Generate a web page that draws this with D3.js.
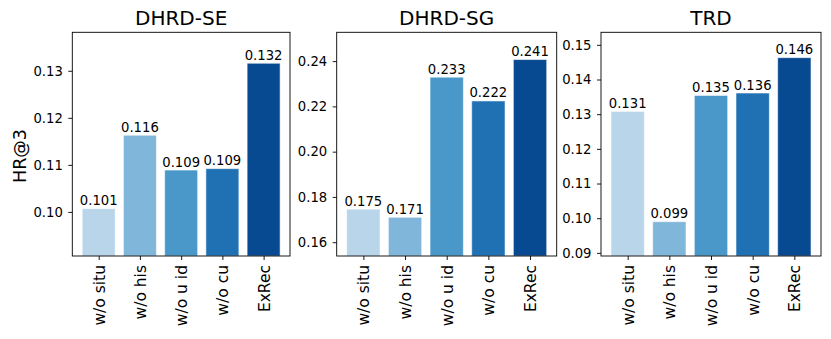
<!DOCTYPE html>
<html>
<head>
<meta charset="utf-8">
<script src="https://cdn.jsdelivr.net/npm/d3@7"></script>
<style>
  html, body { margin: 0; padding: 0; background: #fff; }
  text { font-family: "DejaVu Sans", sans-serif; fill: #000; }
</style>
</head>
<body>
<svg id="chart" width="831" height="339"></svg>
<script>
// ---- data ----
const categories = ["w/o situ", "w/o his", "w/o u id", "w/o cu", "ExRec"];
const titles = ["DHRD-SE", "DHRD-SG", "TRD"];
const valuesSE = [0.1007, 0.1163, 0.1089, 0.1092, 0.1316];
const valuesSG = [0.1746, 0.1710, 0.2329, 0.2224, 0.2407];
const valuesTRD = [0.1308, 0.0990, 0.1354, 0.1361, 0.1463];
const ticksSE = [0.10, 0.11, 0.12, 0.13];
const ticksSG = [0.16, 0.18, 0.20, 0.22, 0.24];
const ticksTRD = [0.09, 0.10, 0.11, 0.12, 0.13, 0.14, 0.15];
const yLabel = "HR@3";

// ---- style ----
const colors = ["#b8d5ea", "#7fb6d9", "#4a98c9", "#2070b4", "#084a91"];
const panels = [
  { title: titles[0], values: valuesSE, ticks: ticksSE, x0: 72.3, x1: 290 },
  { title: titles[1], values: valuesSG, ticks: ticksSG, x0: 336.7, x1: 556.7 },
  { title: titles[2], values: valuesTRD, ticks: ticksTRD, x0: 601, x1: 821 }
];
const plotTop = 32.3, plotBottom = 256;

const svg = d3.select("#chart");

panels.forEach((p, pi) => {
  const ymin = d3.min(p.values) * 0.9;
  const ymax = d3.max(p.values) * 1.05;
  const y = d3.scaleLinear().domain([ymin, ymax]).range([plotBottom, plotTop]);
  // matplotlib-like bar placement: xlim [-0.64, 4.64], bar width 0.8
  const x = d3.scaleLinear().domain([-0.64, 4.64]).range([p.x0, p.x1]);
  const g = svg.append("g");

  // bars
  g.selectAll("rect.bar").data(p.values).enter().append("rect")
    .attr("class", "bar")
    .attr("x", (d, i) => x(i - 0.4))
    .attr("width", (d, i) => x(i + 0.4) - x(i - 0.4))
    .attr("y", d => y(d))
    .attr("height", d => plotBottom - y(d))
    .attr("fill", (d, i) => colors[i])
    .attr("stroke", "#ffffff")
    .attr("stroke-opacity", 0.55)
    .attr("stroke-width", 1);

  // value labels
  g.selectAll("text.val").data(p.values).enter().append("text")
    .attr("class", "val")
    .attr("x", (d, i) => x(i))
    .attr("y", d => y(d) - 3.5)
    .attr("text-anchor", "middle")
    .attr("font-size", 13.2)
    .text(d => d.toFixed(3));

  // y axis
  const yAxis = d3.axisLeft(y).tickValues(p.ticks)
    .tickFormat(d => d.toFixed(2)).tickSize(4).tickPadding(5.5);
  const ya = g.append("g").attr("transform", `translate(${p.x0},0)`).call(yAxis);
  ya.select(".domain").remove();
  ya.selectAll(".tick line").attr("stroke", "#000").attr("stroke-width", 0.9);
  ya.selectAll(".tick text").attr("font-size", 13.2)
    .attr("font-family", "DejaVu Sans, sans-serif");

  // x axis (ticks + rotated labels)
  const xAxis = d3.axisBottom(x).tickValues(d3.range(categories.length))
    .tickFormat(i => categories[i]).tickSize(4).tickPadding(5);
  const xa = g.append("g").attr("transform", `translate(0,${plotBottom})`).call(xAxis);
  xa.select(".domain").remove();
  xa.selectAll(".tick line").attr("stroke", "#000").attr("stroke-width", 0.9);
  xa.selectAll(".tick text")
    .attr("font-size", 15.5)
    .attr("font-family", "DejaVu Sans, sans-serif")
    .attr("transform", "rotate(-90)")
    .attr("text-anchor", "end")
    .attr("x", -9)
    .attr("y", 0)
    .attr("dy", "0.35em");

  // frame
  g.append("rect")
    .attr("x", p.x0).attr("y", plotTop)
    .attr("width", p.x1 - p.x0).attr("height", plotBottom - plotTop)
    .attr("fill", "none").attr("stroke", "#000").attr("stroke-width", 0.9);

  // title
  g.append("text")
    .attr("x", (p.x0 + p.x1) / 2)
    .attr("y", 25)
    .attr("text-anchor", "middle")
    .attr("font-size", 20)
    .text(p.title);
});

// y label
svg.append("text")
  .attr("transform", `translate(26,156) rotate(-90)`)
  .attr("text-anchor", "middle")
  .attr("font-size", 17.5)
  .text(yLabel);
</script>
</body>
</html>
